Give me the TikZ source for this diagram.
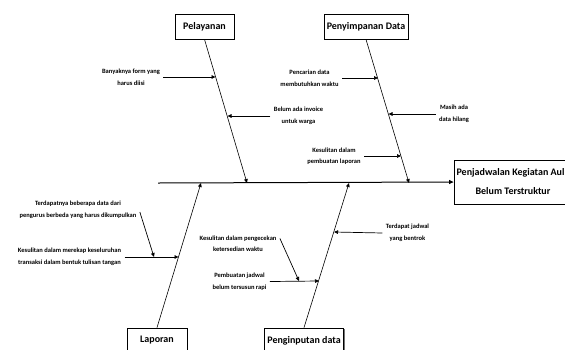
\documentclass[tikz,border=0pt]{standalone}
\usepackage{fontspec}
\setmainfont{Carlito}
\usetikzlibrary{arrows.meta,shadows}

\tikzset{
  cause/.style={draw=black, line width=0.8pt, fill=white, minimum height=25pt,
    inner sep=2pt, font=\bfseries\fontsize{10}{12}\selectfont,
    drop shadow={shadow xshift=1pt, shadow yshift=-1pt, fill=black!55, opacity=1}},
  effect/.style={cause, minimum width=118pt, minimum height=44pt, align=center,
    font=\bfseries\fontsize{10}{19}\selectfont},
  note/.style={align=center, inner sep=2pt, outer sep=1.5pt,
    font=\bfseries\fontsize{6.5}{11.5}\selectfont},
  bone/.style={line width=0.6pt, -{Triangle[length=4pt,width=3.6pt]}},
  spine/.style={line width=1pt, -{Triangle[length=4.5pt,width=4pt]}},
  twig/.style={line width=0.7pt, -{Triangle[length=4pt,width=3.6pt]}},
}

\begin{document}
\begin{tikzpicture}[x=1pt,y=-1pt]
  \useasboundingbox (0,0) rectangle (565,349);
  \clip (0,0) rectangle (565,349);

  % head of the fish
  \node[effect] (head) at (513,182) {Penjadwalan Kegiatan Aul\phantom{a}\\Belum Terstruktur};

  % main spine
  \coordinate (tail) at (158,183);
  \draw[spine] (tail) -- (head.west);

  % category boxes
  \node[cause, minimum width=59pt] (pel) at (204.5,26.5) {Pelayanan};
  \node[cause, minimum width=84pt] (sim) at (366,26.5) {Penyimpanan Data};
  \node[cause, minimum width=60pt] (lap) at (157,340.5) {Laporan};
  \node[cause, minimum width=79pt] (inp) at (304,340.5) {Penginputan data};

  % where the bones meet the spine
  \coordinate (pelEnd) at (247,183);
  \coordinate (simEnd) at (409,183);
  \coordinate (lapEnd) at (201,183);
  \coordinate (inpEnd) at (349,183);

  \draw[bone] (pel.south) -- (pelEnd);
  \draw[bone] (sim.south) -- (simEnd);
  \draw[bone] (lap.north) -- (lapEnd);
  \draw[bone] (inp.north) -- (inpEnd);

  % points on the bones reached by the causes
  \coordinate (pBanyak)  at (215.5,77);
  \coordinate (pInvoice) at (227.5,116);
  \coordinate (pCari)    at (378,78);
  \coordinate (pHilang)  at (388.5,114);
  \coordinate (pLaporan) at (401,156);
  \coordinate (pRekap)   at (178.5,257);
  \coordinate (pBentrok) at (334,232);
  \coordinate (pRapi)    at (319,281);
  \coordinate (pKumpul)  at (154,257);
  \coordinate (pWaktu)   at (299,281);

  % causes: Pelayanan
  \node[note] (banyak) at (131,77) {Banyaknya form yang\\harus diisi};
  \node[note] (invoice) at (298.5,116) {Belum ada invoice\\untuk warga};
  \draw[twig] (banyak.east) -- (pBanyak);
  \draw[twig] (invoice.west) -- (pInvoice);

  % causes: Penyimpanan Data
  \node[note] (cari) at (309.5,78) {Pencarian data\\membutuhkan waktu};
  \node[note] (hilang) at (454,114) {Masih ada\\data hilang};
  \node[note] (sulitlap) at (334,156) {Kesulitan dalam\\pembuatan laporan};
  \draw[twig] (cari.east) -- (pCari);
  \draw[twig] (hilang.west) -- (pHilang);
  \draw[twig] (sulitlap.east) -- (pLaporan);

  % causes: Laporan
  \node[note] (kumpul) at (78,210) {Terdapatnya beberapa data dari\\pengurus berbeda yang harus dikumpulkan};
  \node[note] (rekap) at (69.5,257) {Kesulitan dalam merekap keseluruhan\\transaksi dalam bentuk tulisan tangan};
  \draw[twig] (rekap.east) -- (pRekap);
  \draw[twig] ([yshift=-2pt]kumpul.east) -- (pKumpul);

  % causes: Penginputan data
  \node[note] (cek) at (238,243.5) {Kesulitan dalam pengecekan\\ketersedian waktu};
  \node[note] (rapi) at (239.5,281.5) {Pembuatan jadwal\\belum tersusun rapi};
  \node[note] (bentrok) at (407.5,233) {Terdapat jadwal\\yang bentrok};
  \draw[twig] (rapi.east) -- (pRapi);
  \draw[twig] ([yshift=5pt]cek.east) -- (pWaktu);
  \draw[twig] (bentrok.west) -- (pBentrok);
\end{tikzpicture}
\end{document}
